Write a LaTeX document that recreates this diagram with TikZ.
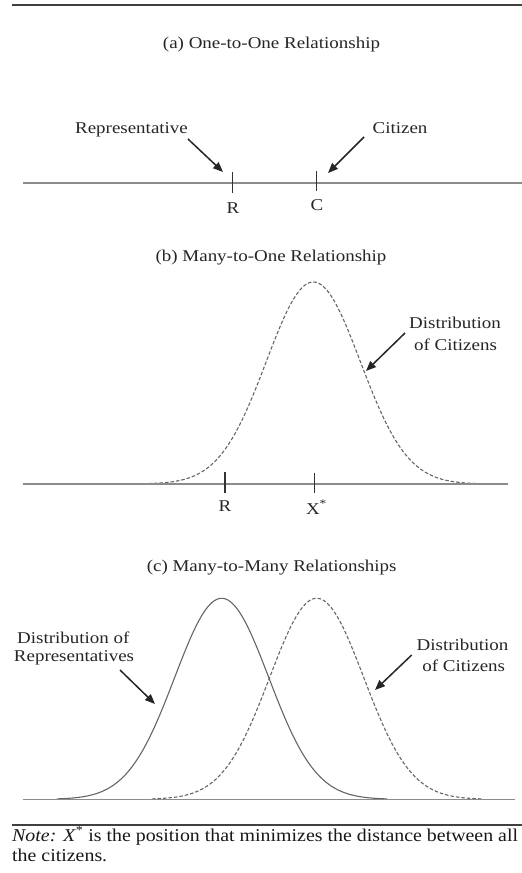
\documentclass[tikz,border=0pt]{standalone}
\usepackage{fontspec}
\setmainfont{Liberation Serif}
\usetikzlibrary{arrows.meta}
\newcommand\hs[1]{\scalebox{1.15}[1]{#1}}
\begin{document}
\begin{tikzpicture}[x=1pt,y=-1pt,
  txt/.style={inner sep=0pt, anchor=base, font=\fontsize{16.5}{20}\selectfont, text=black!85},
  notetxt/.style={inner sep=0pt, anchor=base west, font=\fontsize{18}{20}\selectfont, text=black!90},
  axis/.style={draw=black!45, line width=1.6pt},
  tickmark/.style={draw=black!80, line width=1.5pt},
  rulebar/.style={draw=black!75, line width=2.6pt},
  curve/.style={draw=black!60, line width=1.1pt},
  dcurve/.style={curve, dash pattern=on 3.5pt off 2pt},
  arr/.style={draw=black!85, line width=1.5pt, -{Triangle[length=10pt,width=8pt]}},
]
\useasboundingbox (0,0) rectangle (522,873);
\fill[white] (0,0) rectangle (522,873);

% top rule
\coordinate (r1a) at (12,5); \coordinate (r1b) at (530,5);
\draw[rulebar] (r1a) -- (r1b);

% ---------- panel (a)
\node[txt] (ta) at (271.5,48) {\hs{(a) One-to-One Relationship}};
\coordinate (a0) at (22.7,183); \coordinate (a1) at (530,183);
\draw[axis] (a0) -- (a1);
\coordinate (Rt1) at (232.7,172); \coordinate (Rt2) at (232.7,193);
\coordinate (Ct1) at (316.7,171); \coordinate (Ct2) at (316.7,191);
\draw[tickmark] (Rt1) -- (Rt2);
\draw[tickmark] (Ct1) -- (Ct2);
\node[txt] (Rl) at (233,213) {\hs{R}};
\node[txt] (Cl) at (317,210) {\hs{C}};
\node[txt] (rep) at (131.5,133) {\hs{Representative}};
\node[txt] (cit) at (400,133) {\hs{Citizen}};
\coordinate (rs) at (188,139); \coordinate (re) at (223,172);
\coordinate (cs) at (364,137); \coordinate (ce) at (328,173);
\draw[arr] (rs) -- (re);
\draw[arr] (cs) -- (ce);

% ---------- panel (b)
\node[txt] (tb) at (271,261) {\hs{(b) Many-to-One Relationship}};
\draw[dcurve] plot [domain=143:483,samples=150] (\x,{484-202*exp(-0.5*((\x-313.3)/47)^2)});
\coordinate (b0) at (22.7,484); \coordinate (b1) at (508,484);
\draw[axis] (b0) -- (b1);
\coordinate (Rb1) at (225,472); \coordinate (Rb2) at (225,493);
\coordinate (Xb1) at (314.3,473); \coordinate (Xb2) at (314.3,493);
\draw[tickmark] (Rb1) -- (Rb2);
\draw[tickmark] (Xb1) -- (Xb2);
\node[txt] (Rbl) at (225,511) {\hs{R}};
\node[txt] (Xbl) at (316.5,514) {\hs{X\textsuperscript{*}}};
\node[txt] (db1) at (455,328) {\hs{Distribution}};
\node[txt] (db2) at (455.5,350) {\hs{of Citizens}};
\coordinate (bs) at (405,333); \coordinate (be) at (366,371);
\draw[arr] (bs) -- (be);

% ---------- panel (c)
\node[txt] (tc) at (271.7,571) {\hs{(c) Many-to-Many Relationships}};
\draw[curve] plot [domain=57:387,samples=150] (\x,{799.3-201*exp(-0.5*((\x-221.7)/47)^2)});
\draw[dcurve] plot [domain=152:482,samples=150] (\x,{799.3-201*exp(-0.5*((\x-316.7)/47)^2)});
\coordinate (c0) at (22.7,799.3); \coordinate (c1) at (515,799.3);
\draw[axis] (c0) -- (c1);
\node[txt] (dl1) at (73.3,643) {\hs{Distribution of}};
\node[txt] (dl2) at (74,661) {\hs{Representatives}};
\node[txt] (dr1) at (462.5,650) {\hs{Distribution}};
\node[txt] (dr2) at (463.7,671) {\hs{of Citizens}};
\coordinate (ls) at (120,670); \coordinate (le) at (155,704);
\coordinate (rs2) at (411.7,655); \coordinate (re2) at (375,690);
\draw[arr] (ls) -- (le);
\draw[arr] (rs2) -- (re2);

% bottom rule and note
\coordinate (r2a) at (12,825); \coordinate (r2b) at (530,825);
\draw[rulebar] (r2a) -- (r2b);
\node[notetxt] (n1) at (12,841) {\scalebox{1.105}[1]{\textit{Note:} \textit{X}\textsuperscript{*} is the position that minimizes the distance between all}};
\node[notetxt] (n2) at (12,861) {\scalebox{1.105}[1]{the citizens.}};
\end{tikzpicture}
\end{document}
